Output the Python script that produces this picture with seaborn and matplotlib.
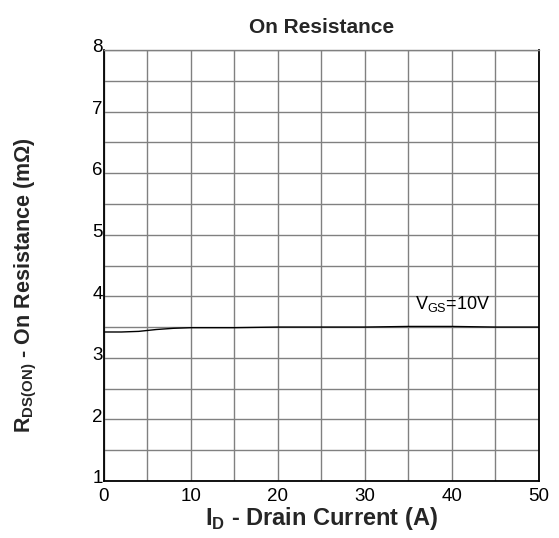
import matplotlib
matplotlib.use("Agg")
import matplotlib.pyplot as plt
import seaborn as sns
import pandas as pd
import numpy as np
from matplotlib.ticker import MultipleLocator
import matplotlib.transforms as mtransforms

drain_current = [0, 2, 4, 6, 8, 10, 15, 20, 25, 30, 35, 40, 45, 50]
on_resistance = [3.42, 3.42, 3.43, 3.46, 3.48, 3.49, 3.49, 3.50, 3.50, 3.50, 3.51, 3.51, 3.50, 3.50]
x_ticks = [0, 10, 20, 30, 40, 50]
y_ticks = [1, 2, 3, 4, 5, 6, 7, 8]

sns.set_theme(style="white")
plt.rcParams['font.family'] = ['Liberation Sans', 'DejaVu Sans']
plt.rcParams['mathtext.fontset'] = 'custom'
plt.rcParams['mathtext.rm'] = 'Liberation Sans'
plt.rcParams['mathtext.bf'] = 'Liberation Sans:bold'

df = pd.DataFrame({"ID": drain_current, "R": on_resistance})

fig = plt.figure(figsize=(5.59, 5.38), dpi=100)
ax = fig.add_axes([0.186, 0.106, 0.778, 0.801])
sns.lineplot(data=df, x="ID", y="R", ax=ax, color="black", linewidth=1.0)

ax.set_xlim(0, 50)
ax.set_ylim(1, 8)
ax.set_xticks(x_ticks)
ax.set_yticks(y_ticks)
ax.xaxis.set_minor_locator(MultipleLocator(5))
ax.yaxis.set_minor_locator(MultipleLocator(0.5))
ax.grid(True, which='both', color='#808080', linewidth=1.0)
ax.set_axisbelow(True)
ax.tick_params(axis='both', which='both', length=0, labelsize=13.5, colors='black', pad=1)
ax.tick_params(axis='x', pad=5)
for lbl in ax.get_yticklabels():
    lbl.set_transform(lbl.get_transform() + mtransforms.ScaledTranslation(0, 3/72, fig.dpi_scale_trans))

for s in ['left', 'bottom', 'right']:
    ax.spines[s].set_color('black')
    ax.spines[s].set_linewidth(1.3)
ax.spines['top'].set_color('#808080')
ax.spines['top'].set_linewidth(1.0)

ax.set_title("On Resistance", fontsize=15, fontweight='bold', pad=12)
ax.set_xlabel(r"I$_{\mathregular{D}}$ - Drain Current (A)", fontsize=17, fontweight='bold', labelpad=0)
ax.set_ylabel(r"R$_{\mathregular{DS(ON)}}$ - On Resistance (m$\mathbf{\Omega}$)", fontsize=15.5, fontweight='bold')
ax.yaxis.set_label_coords(-0.15, 0.455)

ax.text(35.8, 3.88, r"V$_{\mathregular{GS}}$=10V", fontsize=13, color='black', ha='left', va='center')

fig.savefig("out.png", dpi=100)
